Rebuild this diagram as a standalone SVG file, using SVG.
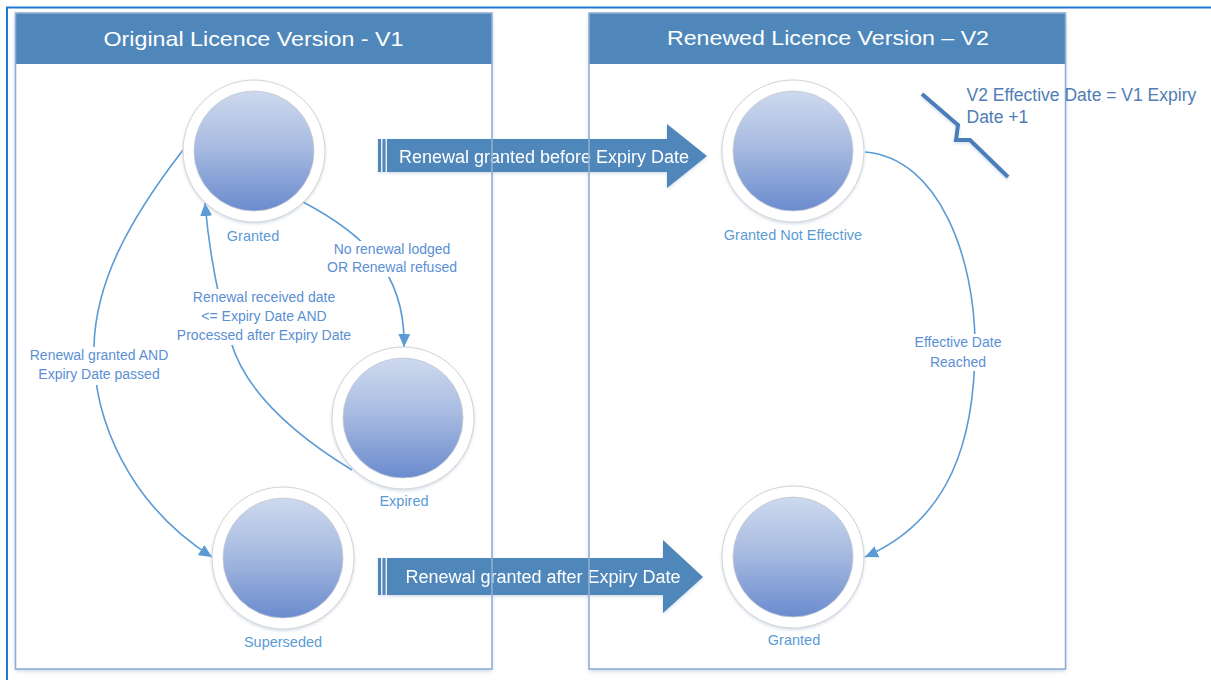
<svg xmlns="http://www.w3.org/2000/svg" width="1211" height="680" viewBox="0 0 1211 680">
<style>
.frame{fill:none;stroke:#1F78D1;stroke-width:2}
.poolfill{fill:#ffffff}
.poolline{fill:none;stroke:#8FAED2;stroke-width:1.6}
.header{fill:#4F87BB}
.htext{font-family:"Liberation Sans",Arial,sans-serif;font-size:21px;fill:#ffffff;text-anchor:middle}
.outer{fill:#ffffff;stroke:#D3D3D3;stroke-width:1}
.inner{fill:url(#ball);stroke:#C4C8D0;stroke-width:0.8}
.nlabel{font-family:"Liberation Sans",Arial,sans-serif;font-size:14.5px;fill:#5B9BD5;text-anchor:middle}
.clabel{font-family:"Liberation Sans",Arial,sans-serif;font-size:14px;fill:#5B8FD3;text-anchor:middle}
.conn{fill:none;stroke:#5B9BD5;stroke-width:1.6}
.bigarrow{fill:#4F87BB}
.atext{font-family:"Liberation Sans",Arial,sans-serif;font-size:18px;fill:#ffffff;text-anchor:middle}
.note{font-family:"Liberation Sans",Arial,sans-serif;font-size:17.5px;fill:#4F7DB5}
.bracket{fill:none;stroke:#4A7EBB;stroke-width:4;stroke-linejoin:miter}
.lblbg{fill:#ffffff}
</style>
<defs>
<linearGradient id="ball" x1="0" y1="0" x2="0" y2="1">
<stop offset="0" stop-color="#CDD9EE"/>
<stop offset="0.45" stop-color="#A9BCE1"/>
<stop offset="1" stop-color="#6A8BCE"/>
</linearGradient>
<filter id="shadow" x="-10%" y="-10%" width="120%" height="120%">
<feDropShadow dx="0" dy="2" stdDeviation="2" flood-color="#5B7FAF" flood-opacity="0.35"/>
</filter>
<filter id="soft" x="-20%" y="-20%" width="140%" height="140%">
<feDropShadow dx="0" dy="1.5" stdDeviation="1.5" flood-color="#7F9CC4" flood-opacity="0.35"/>
</filter>
<marker id="ah" markerUnits="userSpaceOnUse" markerWidth="14" markerHeight="12" refX="13" refY="6" orient="auto">
<path d="M0,0 L13,6 L0,12 z" fill="#5B9BD5"/>
</marker>
</defs>

<!-- outer frame -->
<path class="frame" d="M7,680 L7,7.5 L1211,7.5"/>

<!-- pools -->
<g id="pool-v1">
<rect class="poolfill" x="15.5" y="13" width="476.5" height="656" filter="url(#shadow)"/>
<rect class="header" x="15.5" y="13" width="476.5" height="51"/>
<text class="htext" x="253.5" y="45.5" textLength="300" lengthAdjust="spacingAndGlyphs">Original Licence Version - V1</text>
</g>
<g id="pool-v2">
<rect class="poolfill" x="589" y="13" width="476.5" height="656" filter="url(#shadow)"/>
<rect class="header" x="589" y="13" width="476.5" height="51"/>
<text class="htext" x="828" y="45" textLength="322" lengthAdjust="spacingAndGlyphs">Renewed Licence Version – V2</text>
</g>

<!-- big transfer arrows -->
<g id="arrow-before" filter="url(#soft)">
<rect class="bigarrow" x="378" y="139" width="3" height="33"/>
<rect class="bigarrow" x="382.5" y="139" width="3" height="33"/>
<polygon class="bigarrow" points="387,139 667,139 667,124 707,156 667,188 667,172 387,172"/>
<text class="atext" x="544" y="162.5">Renewal granted before Expiry Date</text>
</g>
<g id="arrow-after" filter="url(#soft)">
<rect class="bigarrow" x="378" y="558" width="3" height="37"/>
<rect class="bigarrow" x="382.5" y="558" width="3" height="37"/>
<polygon class="bigarrow" points="387,558 663,558 663,540 703,577 663,613 663,595 387,595"/>
<text class="atext" x="543" y="583.3">Renewal granted after Expiry Date</text>
</g>

<!-- pool outlines over arrows -->
<rect class="poolline" x="15.5" y="13" width="476.5" height="656"/>
<rect class="poolline" x="589" y="13" width="476.5" height="656"/>

<!-- connectors -->
<g id="connectors">
<path class="conn" marker-end="url(#ah)" d="M303,202 C360,232 406,270 404,347"/>
<path class="conn" marker-end="url(#ah)" d="M352,470 C290,432 245,390 231,342 C220,305 210,262 205,203"/>
<path class="conn" marker-end="url(#ah)" d="M183,150 C125,225 96,285 94,345 C92,420 130,505 212,557"/>
<path class="conn" marker-end="url(#ah)" d="M865,152 C940,158 975,260 975,345 C975,440 950,520 865,557"/>
</g>

<!-- connector labels -->
<g id="label-expire">
<rect class="lblbg" x="336" y="241" width="112" height="36"/>
<text class="clabel" x="392" y="254">No renewal lodged</text>
<text class="clabel" x="392" y="272">OR Renewal refused</text>
</g>
<g id="label-reinstate">
<rect class="lblbg" x="176" y="289" width="176" height="56"/>
<text class="clabel" x="264" y="302">Renewal received date</text>
<text class="clabel" x="264" y="321">&lt;= Expiry Date AND</text>
<text class="clabel" x="264" y="339.5">Processed after Expiry Date</text>
</g>
<g id="label-supersede">
<rect class="lblbg" x="28" y="347" width="142" height="38"/>
<text class="clabel" x="99" y="360">Renewal granted AND</text>
<text class="clabel" x="99" y="379">Expiry Date passed</text>
</g>
<g id="label-effective">
<rect class="lblbg" x="910" y="334" width="96" height="37"/>
<text class="clabel" x="958" y="347">Effective Date</text>
<text class="clabel" x="958" y="367">Reached</text>
</g>

<!-- state nodes -->
<g id="node-granted-v1">
<circle class="outer" cx="254" cy="151" r="71" filter="url(#soft)"/>
<circle class="inner" cx="254" cy="151" r="60"/>
<text class="nlabel" x="253" y="241">Granted</text>
</g>
<g id="node-expired">
<circle class="outer" cx="403" cy="418" r="71" filter="url(#soft)"/>
<circle class="inner" cx="403" cy="418" r="60"/>
<text class="nlabel" x="404" y="506">Expired</text>
</g>
<g id="node-superseded">
<circle class="outer" cx="283" cy="558" r="71" filter="url(#soft)"/>
<circle class="inner" cx="283" cy="558" r="60"/>
<text class="nlabel" x="283" y="647">Superseded</text>
</g>
<g id="node-granted-not-effective">
<circle class="outer" cx="793" cy="151" r="71" filter="url(#soft)"/>
<circle class="inner" cx="793" cy="151" r="60"/>
<text class="nlabel" x="793" y="240">Granted Not Effective</text>
</g>
<g id="node-granted-v2">
<circle class="outer" cx="793" cy="557" r="71" filter="url(#soft)"/>
<circle class="inner" cx="793" cy="557" r="60"/>
<text class="nlabel" x="794" y="645">Granted</text>
</g>

<!-- annotation -->
<g id="note">
<polyline class="bracket" points="922,94 958,125 956,140 970,140 1008,177" filter="url(#soft)"/>
<text class="note" x="966.5" y="100.7">V2 Effective Date = V1 Expiry</text>
<text class="note" x="966.5" y="123.3">Date +1</text>
</g>
</svg>
